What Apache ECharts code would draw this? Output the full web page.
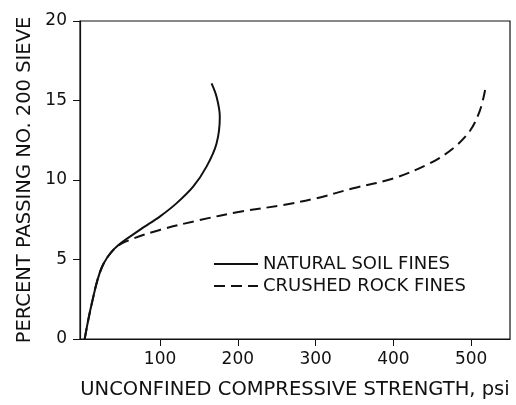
<!DOCTYPE html>
<html><head><meta charset="utf-8">
<script src="https://cdn.jsdelivr.net/npm/echarts@6/dist/echarts.min.js"></script>
<style>html,body{margin:0;padding:0;background:#fff}#c{width:516px;height:405px}</style>
</head><body><div id="c"></div>
<script>
const xTicks = [100, 200, 300, 400, 500];
const naturalX = [3, 12, 24.6, 41.7, 73.9, 99.6, 121, 142.5, 159.7, 172.6, 176.8, 172.6, 166.2];
const naturalY = [0, 2.2, 4.45, 5.7, 6.86, 7.7, 8.53, 9.58, 10.84, 12.3, 13.98, 15.24, 16.08];
const crushedX = [3, 12, 24.6, 41.7, 61, 99.6, 151, 202.6, 258.3, 301, 348.4, 400, 447, 477, 498.6, 511.5, 518];
const crushedY = [0, 2.2, 4.45, 5.7, 6.23, 6.86, 7.48, 8.0, 8.43, 8.85, 9.48, 10.1, 11.05, 12.0, 13.1, 14.4, 15.66];
const names = ['NATURAL SOIL FINES', 'CRUSHED ROCK FINES'];
const zip = (a, b) => a.map((v, i) => [v, b[i]]);
const font = 'DejaVu Sans';
const chart = echarts.init(document.getElementById('c'));
chart.setOption({
  animation: false,
  backgroundColor: '#fff',
  grid: {left: 80, right: 6, top: 21, bottom: 66, show: true, borderColor: '#111', borderWidth: 1.2},
  legend: {
    orient: 'vertical', left: 208, top: 250, itemWidth: 44, itemHeight: 10, itemGap: 4,
    itemStyle: {opacity: 0},
    textStyle: {fontFamily: font, fontSize: 18, color: '#111'},
    data: names
  },
  xAxis: {
    type: 'value', min: -3, max: 550,
    name: 'UNCONFINED COMPRESSIVE STRENGTH, psi', nameLocation: 'middle', nameGap: 41,
    nameTextStyle: {fontFamily: font, fontSize: 19.5, color: '#111'},
    splitLine: {show: false},
    axisLine: {lineStyle: {color: '#111', width: 1.2}},
    axisTick: {customValues: xTicks, length: 7, lineStyle: {color: '#111'}},
    axisLabel: {customValues: xTicks, margin: 12, fontFamily: font, fontSize: 17, color: '#111'}
  },
  yAxis: {
    type: 'value', min: 0, max: 20, interval: 5,
    name: 'PERCENT PASSING NO. 200 SIEVE', nameLocation: 'middle', nameGap: 43,
    nameTextStyle: {fontFamily: font, fontSize: 19.5, color: '#111'},
    splitLine: {show: false},
    axisLine: {onZero: false, lineStyle: {color: '#111', width: 1.2}},
    axisTick: {length: 7, lineStyle: {color: '#111'}},
    axisLabel: {margin: 13, fontFamily: font, fontSize: 17, color: '#111'}
  },
  series: [
    {name: names[0], type: 'line', data: zip(naturalX, naturalY), smooth: 0.35, showSymbol: false, symbol: 'none',
     lineStyle: {color: '#111', width: 2}, itemStyle: {color: '#111'}},
    {name: names[1], type: 'line', data: zip(crushedX, crushedY), smooth: 0.35, showSymbol: false, symbol: 'none',
     lineStyle: {color: '#111', width: 2, type: [11, 6]}, itemStyle: {color: '#111'}}
  ]
});
</script></body></html>
